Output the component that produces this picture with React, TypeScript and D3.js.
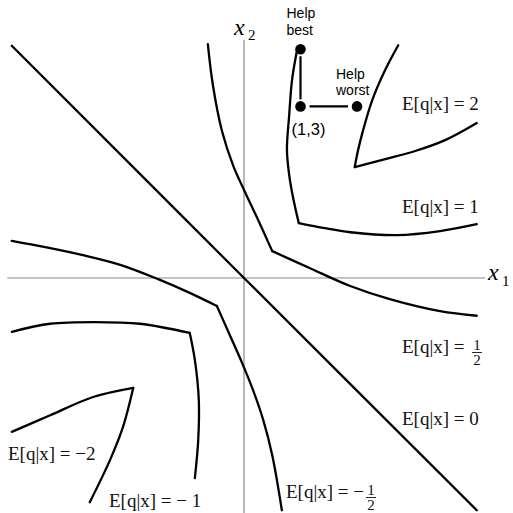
import React from "react";
import * as d3 from "d3";

// Level curves of E[q|x] in (x1, x2) coordinates, each split at its kink.
const levelTwo: [number, number][][] = [
  [[2.73, 4.07], [2.5, 3.64], [2.27, 3.11], [2.11, 2.59], [2.02, 2.24], [1.96, 1.94]],
  [[1.96, 1.94], [2.5, 2.08], [3.03, 2.22], [3.56, 2.41], [4.12, 2.71]],
];
const levelOne: [number, number][][] = [
  [[0.94, 3.99], [0.85, 3.46], [0.8, 2.85], [0.76, 2.24], [0.8, 1.8], [0.87, 1.4], [0.97, 0.96]],
  [[0.97, 0.96], [1.43, 0.87], [1.88, 0.8], [2.71, 0.75], [3.47, 0.82], [4.12, 0.94]],
];
const levelHalf: [number, number][][] = [
  [[-0.64, 4.09], [-0.55, 3.37], [-0.39, 2.57], [-0.19, 1.96], [0.0, 1.54], [0.21, 1.1], [0.5, 0.47]],
  [[0.5, 0.47], [1.17, 0.17], [1.88, -0.14], [2.58, -0.37], [3.47, -0.58], [4.12, -0.66]],
];
const levelZero: [number, number][][] = [[[-4.11, 4.06], [0, 0], [4.12, -4.06]]];
const levelMinusHalf: [number, number][][] = [
  [[-4.11, 0.65], [-3.52, 0.54], [-2.85, 0.4], [-2.19, 0.23], [-1.52, -0.02], [-0.96, -0.26], [-0.48, -0.49]],
  [[-0.48, -0.49], [-0.25, -1.0], [-0.04, -1.47], [0.16, -1.96], [0.34, -2.48], [0.5, -3.1], [0.67, -4.06]],
];
const levelMinusOne: [number, number][][] = [
  [[-4.11, -0.94], [-3.43, -0.8], [-2.64, -0.77], [-1.84, -0.8], [-0.96, -0.96]],
  [[-0.96, -0.96], [-0.87, -1.43], [-0.8, -2.13], [-0.81, -2.83], [-0.87, -3.5]],
];
const levelMinusTwo: [number, number][][] = [
  [[-4.11, -2.69], [-3.43, -2.4], [-2.67, -2.08], [-1.96, -1.92]],
  [[-1.96, -1.92], [-2.14, -2.6], [-2.37, -3.18], [-2.73, -3.92]],
];
const levels = [levelTwo, levelOne, levelHalf, levelZero, levelMinusHalf, levelMinusOne, levelMinusTwo];

// Level labels: leading text plus an optional fraction (numerator, denominator).
const levelLabels = [
  { text: "E[q|x] = 2", frac: null, at: [402, 110], fracDx: 0 },
  { text: "E[q|x] = 1", frac: null, at: [402, 213], fracDx: 0 },
  { text: "E[q|x] =", frac: ["1", "2"], at: [402, 353], fracDx: 75 },
  { text: "E[q|x] = 0", frac: null, at: [402, 425], fracDx: 0 },
  { text: "E[q|x] = \u2212", frac: ["1", "2"], at: [286, 498], fracDx: 85 },
  { text: "E[q|x] = \u2212 1", frac: null, at: [109, 507], fracDx: 0 },
  { text: "E[q|x] = \u22122", frac: null, at: [8, 460], fracDx: 0 },
];

// The point (1,3) and the two moves away from it.
const basePoint: [number, number] = [1, 3];
const bestPoint: [number, number] = [1, 4];
const worstPoint: [number, number] = [2, 3];

const xAxisExtent = [-4.19, 4.27];
const yAxisExtent = [-4.12, 4.16];

const W = 513;
const H = 513;
const x = d3.scaleLinear().domain([-4, 4]).range([244 - 4 * 56.5, 244 + 4 * 56.5]);
const y = d3.scaleLinear().domain([-4, 4]).range([278 + 4 * 57.2, 278 - 4 * 57.2]);

const curve = d3
  .line<[number, number]>()
  .x((d) => x(d[0]))
  .y((d) => y(d[1]))
  .curve(d3.curveCatmullRom.alpha(0.5));

const serif = "'Liberation Serif', 'Times New Roman', serif";
const sans = "'Liberation Sans', Arial, sans-serif";

function Segment({ a, b, trim }: { a: [number, number]; b: [number, number]; trim: number }) {
  const x1 = x(a[0]), y1 = y(a[1]), x2 = x(b[0]), y2 = y(b[1]);
  const len = Math.hypot(x2 - x1, y2 - y1);
  const ux = (x2 - x1) / len, uy = (y2 - y1) / len;
  return (
    <line
      x1={x1 + ux * trim}
      y1={y1 + uy * trim}
      x2={x2 - ux * trim}
      y2={y2 - uy * trim}
      stroke="#000"
      strokeWidth={2.2}
    />
  );
}

export default function App() {
  return (
    <svg
      width={W}
      height={H}
      viewBox={`0 0 ${W} ${H}`}
      style={{ position: "absolute", left: 0, top: 0, background: "#fff", display: "block" }}
    >
      <rect width={W} height={H} fill="#fff" />
      {/* axes */}
      <line x1={x(xAxisExtent[0])} x2={x(xAxisExtent[1])} y1={y(0)} y2={y(0)} stroke="#8a8a8a" strokeWidth={1.2} />
      <line x1={x(0)} x2={x(0)} y1={y(yAxisExtent[1])} y2={y(yAxisExtent[0])} stroke="#8a8a8a" strokeWidth={1.2} />
      <text x={488} y={280} fontFamily={serif} fontStyle="italic" fontSize={24}>
        x
      </text>
      <text x={502} y={286} fontFamily={serif} fontSize={15}>
        1
      </text>
      <text x={234} y={35} fontFamily={serif} fontStyle="italic" fontSize={24}>
        x
      </text>
      <text x={248} y={40} fontFamily={serif} fontSize={15}>
        2
      </text>

      {/* level curves */}
      {levels.map((branches, i) =>
        branches.map((pts, j) => (
          <path
            key={`${i}-${j}`}
            d={curve(pts) ?? ""}
            fill="none"
            stroke="#000"
            strokeWidth={2.3}
            strokeLinejoin="round"
            strokeLinecap="round"
          />
        ))
      )}

      {/* level labels */}
      {levelLabels.map((l, i) => (
        <g key={i} fontFamily={serif} fill="#111">
          <text x={l.at[0]} y={l.at[1]} fontSize={19} style={{ whiteSpace: "pre" }}>
            {l.text}
          </text>
          {l.frac && (
            <g fontSize={15} textAnchor="middle">
              <text x={l.at[0] + l.fracDx} y={l.at[1] - 3}>
                {l.frac[0]}
              </text>
              <line
                x1={l.at[0] + l.fracDx - 5}
                x2={l.at[0] + l.fracDx + 5}
                y1={l.at[1] - 0.5}
                y2={l.at[1] - 0.5}
                stroke="#111"
                strokeWidth={0.9}
              />
              <text x={l.at[0] + l.fracDx} y={l.at[1] + 12}>
                {l.frac[1]}
              </text>
            </g>
          )}
        </g>
      ))}

      {/* help moves from (1,3) */}
      <Segment a={bestPoint} b={basePoint} trim={7} />
      <Segment a={basePoint} b={worstPoint} trim={9} />
      {[bestPoint, basePoint, worstPoint].map((p, i) => (
        <circle key={i} cx={x(p[0])} cy={y(p[1])} r={5.3} fill="#000" />
      ))}
      <g fontFamily={sans} fontSize={14}>
        <text x={x(bestPoint[0]) - 14} y={18}>Help</text>
        <text x={x(bestPoint[0]) - 14} y={35}>best</text>
        <text x={x(worstPoint[0]) - 21} y={79}>Help</text>
        <text x={x(worstPoint[0]) - 21} y={95}>worst</text>
        <text x={x(basePoint[0]) - 9} y={135} fontSize={16.5}>(1,3)</text>
      </g>
    </svg>
  );
}
